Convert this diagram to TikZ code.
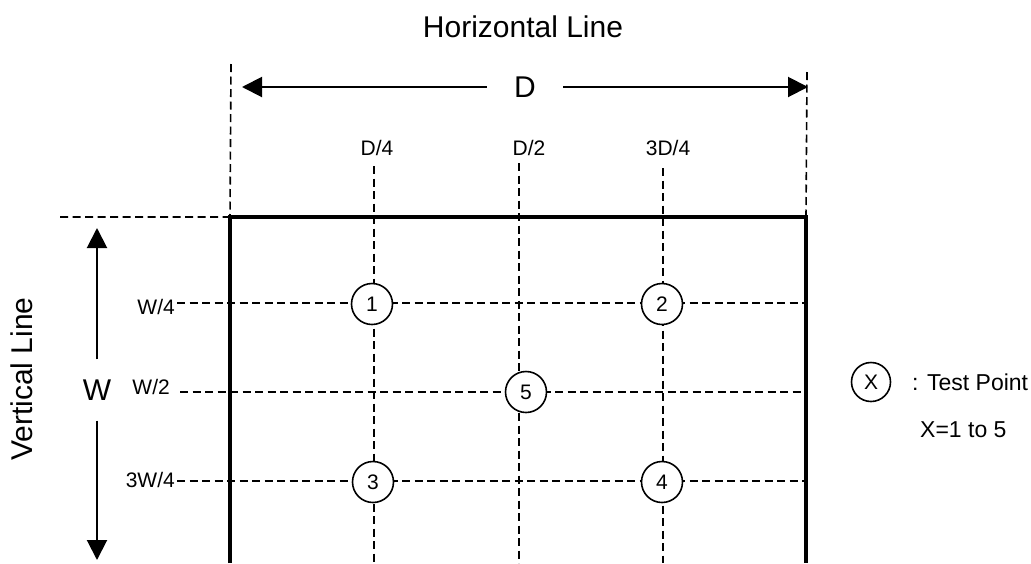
\documentclass[tikz,border=0pt]{standalone}
\usepackage{fontspec}
\setmainfont{Liberation Sans}
\usetikzlibrary{arrows.meta}
\tikzset{
  guide/.style={dash pattern=on 8pt off 4.5pt,line width=1.6pt},
  dimarr/.style={line width=2pt,-{Triangle[length=20pt,width=20pt]}},
  bigtxt/.style={font=\fontsize{30}{36}\selectfont,inner sep=0pt},
  smalltxt/.style={font=\fontsize{21}{25}\selectfont,inner sep=0pt},
  legtxt/.style={font=\fontsize{23}{28}\selectfont,inner sep=0pt,anchor=west},
  testpt/.style={circle,draw,line width=1.6pt,fill=white,minimum size=41pt,
    inner sep=0pt,font=\fontsize{21}{25}\selectfont}
}
\begin{document}
\begin{tikzpicture}[x=1pt,y=-1pt]
\useasboundingbox (0,0) rectangle (1031,563);
% frame
\coordinate (TL) at (230,217);
\coordinate (TR) at (806,217);
\coordinate (BL) at (230,563);
\coordinate (BR) at (806,563);
\coordinate (Lt) at (231,64);
\coordinate (Rt) at (807,72);
\coordinate (Hs) at (60,217);
\draw[guide] (Lt)--(TL) (Rt)--(TR) (Hs)--(TL);
% horizontal dimension
\node[bigtxt] (horz) at (523,27) {Horizontal Line};
\node[bigtxt,fill=white,inner xsep=27pt,inner ysep=4pt] (dimD) at (525,87) {D};
\coordinate (Dl) at (242,87);
\coordinate (Dr) at (808,87);
\draw[dimarr] (dimD.west)--(Dl);
\draw[dimarr] (dimD.east)--(Dr);
% vertical dimension
\node[bigtxt,rotate=90] (vert) at (22,379) {Vertical Line};
\node[bigtxt,inner ysep=20pt] (dimW) at (97,390) {W};
\coordinate (Wt) at (97,228);
\coordinate (Wb) at (97,560);
\draw[dimarr] (dimW.north)--(Wt);
\draw[dimarr] (dimW.south)--(Wb);
% grid columns
\foreach \n/\x/\lx/\t/\txt in {d4/374/377/166/D\slash 4,d2/519/529/163/D\slash 2,d34/663/668/168/3D\slash 4}{
  \node[smalltxt] (\n) at (\lx,148) {\txt};
  \coordinate (\n t) at (\x,\t);
  \coordinate (\n b) at (\x,563);
  \draw[guide] (\n t)--(\n b);
}
% grid rows
\foreach \n/\y/\lx/\ly/\s/\txt in {w4/303/175/307/177/W\slash 4,w2/392/170/387/180/W\slash 2,w34/481/175/480/177/3W\slash 4}{
  \node[smalltxt,anchor=east] (\n) at (\lx,\ly) {\txt};
  \coordinate (\n l) at (\s,\y);
  \coordinate (\n r) at (806,\y);
  \draw[guide] (\n l)--(\n r);
}
\draw[line width=3.8pt] (BL)--(TL)--(TR)--(BR);
% test points
\node[testpt] (p1) at (372,304) {1};
\node[testpt] (p2) at (662,304) {2};
\node[testpt] (p5) at (526,392) {5};
\node[testpt] (p3) at (373,482) {3};
\node[testpt] (p4) at (662,482) {4};
% legend
\node[testpt,minimum size=39pt] (px) at (871,382) {X};
\node[legtxt] (leg1) at (912,382) {: Test Point};
\node[legtxt] (leg2) at (920,430) {X=1 to 5};
\end{tikzpicture}
\end{document}
